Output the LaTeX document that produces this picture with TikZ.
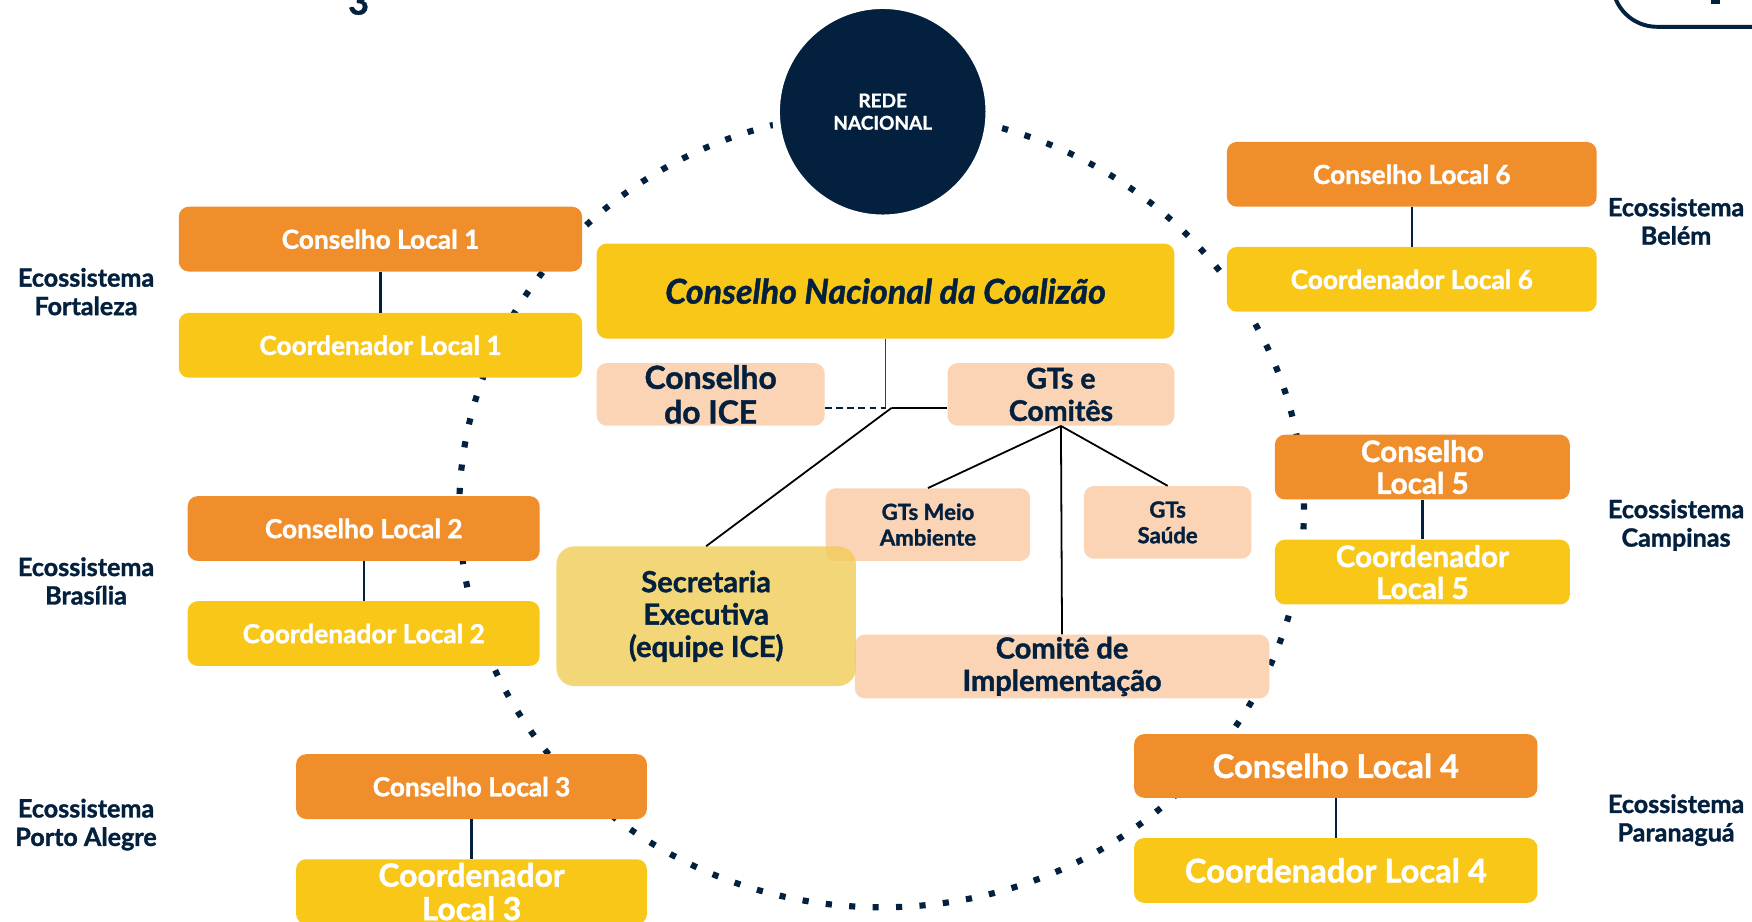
\documentclass[tikz,border=0pt]{standalone}
\usepackage{fontspec}
\setmainfont{Lato}[BoldFeatures={FakeBold=1.3},BoldItalicFeatures={FakeBold=1.3}]
\definecolor{navy}{RGB}{3,33,62}
\definecolor{orangec}{RGB}{241,142,44}
\definecolor{yellowc}{RGB}{249,199,24}
\definecolor{peachc}{RGB}{250,212,181}
\definecolor{secc}{RGB}{241,204,86}
\tikzset{
  box/.style={rounded corners=9pt, inner sep=0pt, align=center},
  orangebox/.style={box, fill=orangec, text=white},
  yellowbox/.style={box, fill=yellowc, text=white},
  peachbox/.style={box, fill=peachc, text=navy},
  link/.style={draw=navy, line width=2pt},
  conn/.style={draw=black, line width=1.6pt},
  eco/.style={text=navy, align=center, font=\bfseries\fontsize{22.5}{25.5}\selectfont},
  tsmall/.style={font=\bfseries\fontsize{23.5}{27}\selectfont},
  tbig/.style={font=\bfseries\fontsize{29.3}{33}\selectfont},
}
\begin{document}
\begin{tikzpicture}[x=1pt,y=-1pt]
\useasboundingbox (0,0) rectangle (1568,825);
\clip (0,0) rectangle (1568,825);
\fill[white] (0,0) rectangle (1568,825);

% fragments at the top edge
\node[anchor=base, text=navy, font=\bfseries\fontsize{32}{36}\selectfont, inner sep=0pt] (frag3) at (321,13) {3};
\draw[navy, line width=3.5pt, rounded corners=40pt] (1443,-80) rectangle (1700,24);
\fill[navy] (1531,-5) rectangle (1539,4);

% dotted ring
\draw[navy, line width=5.5pt, dash pattern=on 5.5pt off 15.5pt] (789,456) ellipse [x radius=378pt, y radius=356pt];

% national network
\node[circle, fill=navy, draw=white, line width=7pt, minimum size=191pt, text=white, align=center,
      font=\bfseries\fontsize{17}{20}\selectfont] (rede) at (790,100) {REDE\\NACIONAL};

% local councils
\node[orangebox, minimum width=361pt, minimum height=58pt, tsmall] (cl1) at (340.5,214) {Conselho Local 1};
\node[yellowbox, minimum width=361pt, minimum height=58pt, tsmall] (col1) at (340.5,309) {Coordenador Local 1};
\draw[link] (cl1) -- (col1);
\node[eco] (e1) at (77,261) {Ecossistema\\Fortaleza};

\node[orangebox, minimum width=315pt, minimum height=58pt, tsmall] (cl2) at (325.5,473) {Conselho Local 2};
\node[yellowbox, minimum width=315pt, minimum height=58pt, tsmall] (col2) at (325.5,567) {Coordenador Local 2};
\draw[link] (cl2) -- (col2);
\node[eco] (e2) at (77,520) {Ecossistema\\Brasília};

\node[orangebox, minimum width=314pt, minimum height=58pt, tsmall] (cl3) at (422,704) {Conselho Local 3};
\node[yellowbox, minimum width=314pt, minimum height=58pt, font=\bfseries\fontsize{28.5}{30}\selectfont] (col3) at (422,798) {Coordenador\\Local 3};
\draw[link] (cl3) -- (col3);
\node[eco] (e3) at (77,738) {Ecossistema\\Porto Alegre};

\node[orangebox, minimum width=361pt, minimum height=57pt, tbig] (cl4) at (1195.5,685.5) {Conselho Local 4};
\node[yellowbox, minimum width=361pt, minimum height=58pt, tbig] (col4) at (1195.5,779) {Coordenador Local 4};
\draw[link] (cl4) -- (col4);
\node[eco] (e4) at (1500,734) {Ecossistema\\Paranaguá};

\node[orangebox, minimum width=264pt, minimum height=58pt, font=\bfseries\fontsize{26.5}{28.5}\selectfont] (cl5) at (1273,418) {Conselho\\Local 5};
\node[yellowbox, minimum width=264pt, minimum height=58pt, font=\bfseries\fontsize{26.5}{28.5}\selectfont] (col5) at (1273,512) {Coordenador\\Local 5};
\draw[link] (cl5) -- (col5);
\node[eco] (e5) at (1500,470) {Ecossistema\\Campinas};

\node[orangebox, minimum width=331pt, minimum height=58pt, tsmall] (cl6) at (1263.5,156) {Conselho Local 6};
\node[yellowbox, minimum width=331pt, minimum height=58pt, tsmall] (col6) at (1263.5,250) {Coordenador Local 6};
\draw[link] (cl6) -- (col6);
\node[eco] (e6) at (1500,198) {Ecossistema\\Belém};

% central structure
\node[box, fill=yellowc, text=navy, minimum width=517pt, minimum height=85pt,
      font=\bfseries\itshape\fontsize{30.5}{34}\selectfont] (cn) at (792.5,260.5) {Conselho Nacional da Coalizão};
\node[peachbox, minimum width=204pt, minimum height=56pt, font=\bfseries\fontsize{28.5}{31}\selectfont] (ice) at (636,353) {Conselho\\do ICE};
\node[peachbox, minimum width=203pt, minimum height=56pt, font=\bfseries\fontsize{25.5}{29}\selectfont] (gts) at (949.5,353) {GTs e\\Comitês};
\node[peachbox, minimum width=183pt, minimum height=65pt, font=\bfseries\fontsize{19.8}{23}\selectfont] (meio) at (830.5,469.5) {GTs Meio\\Ambiente};
\node[peachbox, minimum width=150pt, minimum height=65pt, font=\bfseries\fontsize{19.8}{23}\selectfont] (saude) at (1045,467.5) {GTs\\Saúde};
\node[peachbox, minimum width=371pt, minimum height=57pt, font=\bfseries\fontsize{26}{29}\selectfont] (comite) at (950.5,596.5) {Comitê de\\Implementação};
\node[box, fill=secc, fill opacity=0.8, text opacity=1, text=navy, rounded corners=16pt, minimum width=268pt, minimum height=125pt,
      font=\bfseries\fontsize{26}{29}\selectfont] (sec) at (632,551.5) {Secretaria\\Executiva\\(equipe ICE)};

\coordinate (J) at (798,365);
\draw[conn, draw=black!75] (cn.south) -- (cn.south |- J);
\draw[navy, line width=1.6pt, dash pattern=on 6pt off 4pt] (ice.east |- J) -- (cn.south |- J);
\draw[conn] (J) -- (gts.west |- J);
\draw[conn] (J) -- (sec.north);
\draw[conn] (gts.south) -- (meio.north);
\draw[conn] (gts.south) -- (saude.north);
\draw[conn] (gts.south) -- (comite.north);
\end{tikzpicture}
\end{document}
